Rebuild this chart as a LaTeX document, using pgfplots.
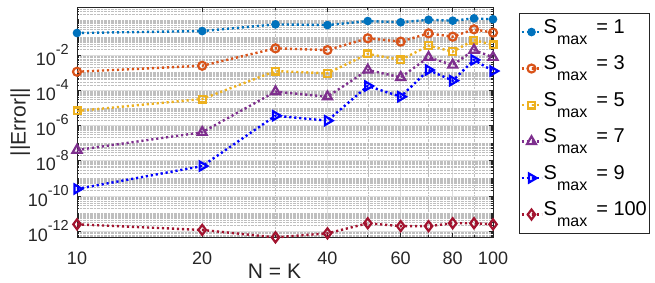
\documentclass[border=0pt]{standalone}
\usepackage{fontspec}
\setmainfont{Liberation Sans}
\usepackage{pgfplots}
\pgfplotsset{compat=1.18}
\usetikzlibrary{plotmarks}
\definecolor{c1}{rgb}{0,0.447,0.741}
\definecolor{c2}{rgb}{0.85,0.325,0.098}
\definecolor{c3}{rgb}{0.929,0.694,0.125}
\definecolor{c4}{rgb}{0.494,0.184,0.556}
\definecolor{c5}{rgb}{0,0,1}
\definecolor{c6}{rgb}{0.635,0.078,0.184}
\newcommand\tp[1]{10\raisebox{0.6em}{\fontsize{14.5}{15}\selectfont #1}}
\newcommand\smax[1]{S\raisebox{-0.55em}{\fontsize{16}{16}\selectfont max}\hspace{9pt}= #1}
\def\myminor{1e1}
\foreach \e in {-13,...,0}{\foreach \k in {1,...,9}{\xdef\myminor{\myminor,\k e\e}}}
\tikzset{pl/.style={line width=2.4pt, dash pattern=on 2.2pt off 2.8pt}}
\begin{document}
\begin{tikzpicture}
\begin{axis}[
  at={(0,0)}, anchor=south west,
  scale only axis, width=416pt, height=230pt,
  xmode=log, ymode=log,
  xmin=10, xmax=100, ymin=4.57e-13, ymax=5.33,
  xtick={10,20,40,60,80,100}, xticklabels={10,20,40,60,80,100},
  minor xtick={30,50,70,90},
  ytick={1e-12,1e-10,1e-8,1e-6,1e-4,1e-2},
  yticklabels={\tp{-12},\tp{-10},\tp{-8},\tp{-6},\tp{-4},\tp{-2}},
  minor ytick/.expanded={\myminor},
  grid=both,
  major grid style={black!13, line width=0.6pt},
  minor grid style={black!25, densely dotted, line width=0.5pt},
  tick align=inside,
  major tick length=4.5pt, minor tick length=2.5pt,
  axis line style={black!85, line width=0.6pt},
  every tick/.style={black!85, line width=0.6pt},
  clip=false,
  xticklabel style={font=\fontsize{18}{18}\selectfont, text=black!85, anchor=base, inner sep=0pt, yshift=-27pt},
  yticklabel style={font=\fontsize{18}{18}\selectfont, text=black!85, anchor=east, inner sep=0pt, xshift=-8pt},
  xlabel={N = K},
  xlabel style={font=\fontsize{21}{21}\selectfont, text=black!85, at={(axis description cs:0.5,0)}, anchor=base, xshift=-10.5pt, yshift=-41pt},
  ylabel={||Error||},
  ylabel style={font=\fontsize{21}{21}\selectfont, text=black!85, at={(axis description cs:-0.1236,0.5)}, anchor=base, rotate=0},
  legend style={at={(1.0625,0.974)}, anchor=north west, draw=black!85, line width=0.6pt, fill=white,
    font=\fontsize{20}{20}\selectfont, inner xsep=1pt, inner ysep=0.5pt,
    nodes={inner ysep=1pt, inner xsep=1pt, text height=18.5pt, text depth=16pt}},
  legend cell align=left,
  legend image code/.code={\draw[mark repeat=2,mark phase=2] plot coordinates {(0pt,0pt) (10pt,0pt) (20pt,0pt)};},
]
\addplot[pl, color=c1, mark=*, mark size=3.8pt, mark options={solid, fill=c1, line width=1pt}] coordinates {
(10,0.178) (20,0.229) (30,0.550) (40,0.501) (50,0.851) (60,0.724) (70,1.0) (80,0.891) (90,1.202) (100,1.072)};
\addlegendentry{\smax{1}}
\addplot[pl, color=c2, mark=o, mark size=4pt, mark options={solid, line width=2.2pt}] coordinates {
(10,1.12e-3) (20,2.45e-3) (30,0.024) (40,0.0191) (50,0.0891) (60,0.0575) (70,0.170) (80,0.110) (90,0.288) (100,0.186)};
\addlegendentry{\smax{3}}
\addplot[pl, color=c3, mark=square, mark size=3.4pt, mark options={solid, line width=2.2pt}] coordinates {
(10,6.6e-6) (20,3.16e-5) (30,1.23e-3) (40,9.1e-4) (50,0.0115) (60,5.25e-3) (70,0.0339) (80,0.0155) (90,0.0708) (100,0.0372)};
\addlegendentry{\smax{5}}
\addplot[pl, color=c4, mark=triangle, mark size=5.2pt, mark options={solid, line width=2.2pt}] coordinates {
(10,3.98e-8) (20,4.07e-7) (30,8.3e-5) (40,4.27e-5) (50,1.41e-3) (60,5.37e-4) (70,7.41e-3) (80,2.69e-3) (90,0.0191) (100,7.41e-3)};
\addlegendentry{\smax{7}}
\addplot[pl, color=c5, mark=triangle, mark size=5.2pt, mark options={solid, line width=2.2pt, rotate=-90}] coordinates {
(10,2.45e-10) (20,4.9e-9) (30,3.55e-6) (40,1.86e-6) (50,1.74e-4) (60,4.27e-5) (70,1.41e-3) (80,3.47e-4) (90,5.25e-3) (100,1.23e-3)};
\addlegendentry{\smax{9}}
\addplot[pl, color=c6, mark=diamond, mark size=5pt, mark options={solid, line width=2.2pt}] coordinates {
(10,2.4e-12) (20,1.15e-12) (30,4.37e-13) (40,7.4e-13) (50,2.75e-12) (60,1.9e-12) (70,1.9e-12) (80,2.75e-12) (90,2.75e-12) (100,2.4e-12)};
\addlegendentry{\smax{100}}
\end{axis}
\pgfresetboundingbox
\path[use as bounding box] (-77pt,-45pt) rectangle (578pt,237pt);
\end{tikzpicture}
\end{document}
